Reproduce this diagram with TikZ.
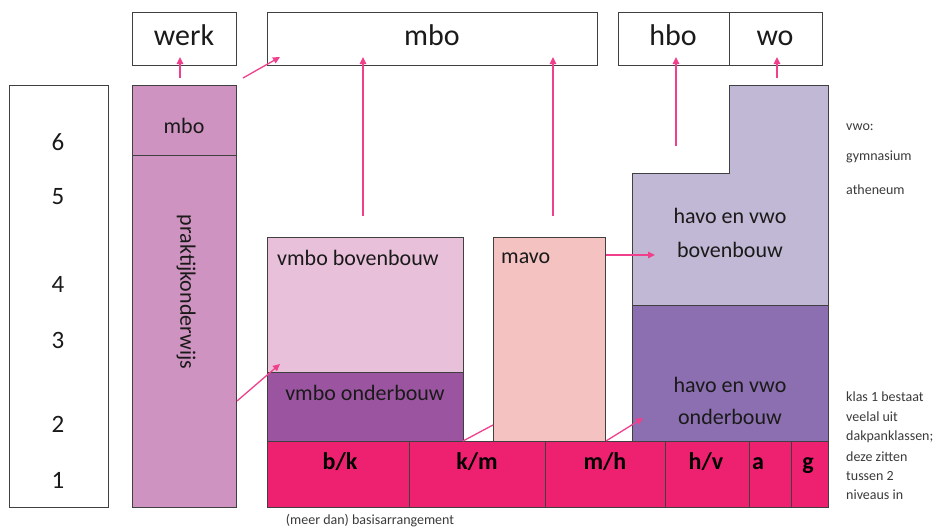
\documentclass[tikz,border=0pt]{standalone}
\usepackage{fontspec}
\setmainfont{Carlito}
\usetikzlibrary{arrows.meta,calc}
\definecolor{edge}{HTML}{404040}
\definecolor{prak}{HTML}{CE93C0}
\definecolor{vbb}{HTML}{E8C0DA}
\definecolor{vob}{HTML}{9B55A0}
\definecolor{bar}{HTML}{EE2070}
\definecolor{mavoc}{HTML}{F5C2C2}
\definecolor{hbb}{HTML}{C0B8D4}
\definecolor{hob}{HTML}{8C6FB0}
\definecolor{arrowc}{HTML}{F0408C}
\definecolor{txt}{HTML}{1A1A1A}
\definecolor{small}{HTML}{3A3A3A}
\begin{document}
\begin{tikzpicture}[x=1pt,y=-1pt,
  box/.style={draw=edge, line width=0.9pt, inner sep=0pt, outer sep=0pt, anchor=north west, text=txt},
  big/.style={font=\fontsize{30}{32}\selectfont, text=txt, inner sep=0pt, anchor=base},
  num/.style={font=\fontsize{25}{27}\selectfont, text=txt},
  lbl/.style={font=\fontsize{22}{24}\selectfont, text=txt, inner sep=0pt},
  cell/.style={font=\bfseries\fontsize{24}{26}\selectfont, text=black, inner sep=0pt, anchor=base},
  note/.style={font=\fontsize{14}{16}\selectfont, text=small, anchor=west, inner sep=0pt},
  arr/.style={draw=arrowc, line width=1.3pt, -{Triangle[length=7pt,width=6.5pt]}},
  ln/.style={draw=arrowc, line width=1.3pt}]
\useasboundingbox (0,0) rectangle (936,531);

% year column
\node[box, minimum width=99pt, minimum height=422pt] (years) at (9,85) {};
\node[num] (n6) at (58,142) {6};
\node[num] (n5) at (58,197) {5};
\node[num] (n4) at (58,284) {4};
\node[num] (n3) at (58,340) {3};
\node[num] (n2) at (58,424) {2};
\node[num] (n1) at (58,480) {1};

% top boxes
\node[box, minimum width=104pt, minimum height=53pt] (werk) at (132,12) {};
\node[big] (werktxt) at (184,45) {werk};
\node[box, minimum width=330pt, minimum height=53pt] (mbotop) at (267,12) {};
\node[big] (mbotxt) at (432,45) {mbo};
\node[box, minimum width=111pt, minimum height=53pt] (hbo) at (618,12) {};
\node[big] (hbotxt) at (673,45) {hbo};
\node[box, minimum width=93pt, minimum height=53pt] (wo) at (729,12) {};
\node[big] (wotxt) at (775,45) {wo};

% praktijkonderwijs column
\node[box, fill=prak, minimum width=104pt, minimum height=70pt] (pmbo) at (132,85) {};
\node[lbl, anchor=base] (pmbotxt) at (184,133) {mbo};
\node[box, fill=prak, minimum width=104pt, minimum height=352pt] (prak) at (132,155) {};
\node[lbl, rotate=-90] (praktxt) at (186,292) {praktijkonderwijs};

% vmbo
\node[box, fill=vbb, minimum width=196pt, minimum height=135pt] (vbbox) at (267,237) {};
\node[lbl, anchor=west] (vbbtxt) at (277,258) {vmbo bovenbouw};
\node[box, fill=vob, minimum width=196pt, minimum height=69pt] (vobox) at (267,372) {};
\node[lbl] (vobtxt) at (365,393) {vmbo onderbouw};

% mavo
\node[box, fill=mavoc, minimum width=112pt, minimum height=204pt] (mavo) at (493,237) {};
\node[lbl, anchor=west] (mavotxt) at (501,258) {mavo};

% havo/vwo
\draw[draw=edge, line width=0.9pt, fill=hbb] (632,173) -- (729,173) -- (729,85) -- (828,85) -- (828,305) -- (632,305) -- cycle;
\node[lbl, align=center, font=\fontsize{22}{34}\selectfont] (hbbtxt) at (730,233) {havo en vwo\\bovenbouw};
\node[box, fill=hob, minimum width=196pt, minimum height=136pt] (hobox) at (632,305) {};
\node[lbl, align=center, font=\fontsize{22}{32}\selectfont] (hobtxt) at (730,401) {havo en vwo\\onderbouw};

% bar
\node[box, fill=bar, minimum width=142pt, minimum height=66pt] (bk) at (267,441) {};
\node[box, fill=bar, minimum width=136pt, minimum height=66pt] (km) at (409,441) {};
\node[box, fill=bar, minimum width=120pt, minimum height=66pt] (mh) at (545,441) {};
\node[box, fill=bar, minimum width=84pt, minimum height=66pt] (hv) at (665,441) {};
\node[box, fill=bar, minimum width=42pt, minimum height=66pt] (ca) at (749,441) {};
\node[box, fill=bar, minimum width=37pt, minimum height=66pt] (cg) at (791,441) {};
\node[cell] (lbk) at (340,469) {b/k};
\node[cell] (lkm) at (477,469) {k/m};
\node[cell] (lmh) at (605,469) {m/h};
\node[cell] (lhv) at (706,469) {h/v};
\node[cell] (la) at (758,469) {a};
\node[cell] (lg) at (808,469) {g};

% notes
\node[note] (vwo) at (846,127) {vwo:};
\node[note] (gym) at (846,157) {gymnasium};
\node[note] (ath) at (846,190) {atheneum};
\node[note] (k1) at (846,397) {klas 1 bestaat};
\node[note] (k2) at (846,417) {veelal uit};
\node[note] (k3) at (846,437) {dakpanklassen;};
\node[note] (k4) at (846,457) {deze zitten};
\node[note] (k5) at (846,476) {tussen 2};
\node[note] (k6) at (846,495) {niveaus in};
\node[note, anchor=center] (basis) at (370,521) {(meer dan) basisarrangement};

% arrows
\coordinate (s1) at ($(pmbo.north)+(-4,-7)$);
\draw[arr] (s1) -- ($(s1 |- werk.south)+(0,-8)$);
\draw[arr] ($(pmbo.north east)+(7,-7)$) -- ($(mbotop.south west)+(13,-8)$);
\coordinate (s2) at (363,216);
\draw[arr] (s2) -- ($(s2 |- mbotop.south)+(0,-8)$);
\coordinate (s3) at (553,216);
\draw[arr] (s3) -- ($(s3 |- mbotop.south)+(0,-8)$);
\coordinate (s4) at (676,146);
\draw[arr] (s4) -- ($(s4 |- hbo.south)+(0,-8)$);
\coordinate (s5) at (777,78);
\draw[arr] (s5) -- ($(s5 |- wo.south)+(0,-8)$);
\draw[arr] ($(prak.north east)+(1,246)$) -- ($(vobox.north west)+(13,-8)$);
\draw[ln] (vobox.south east) -- ($(mavo.south west)+(0,-16)$);
\draw[arr] ($(mavo.south east)+(1,0)$) -- ($(hobox.south west)+(11,-23)$);
\draw[arr] ($(mavo.north east)+(1,18)$) -- ($(mavo.north east)+(50,18)$);
\end{tikzpicture}
\end{document}
